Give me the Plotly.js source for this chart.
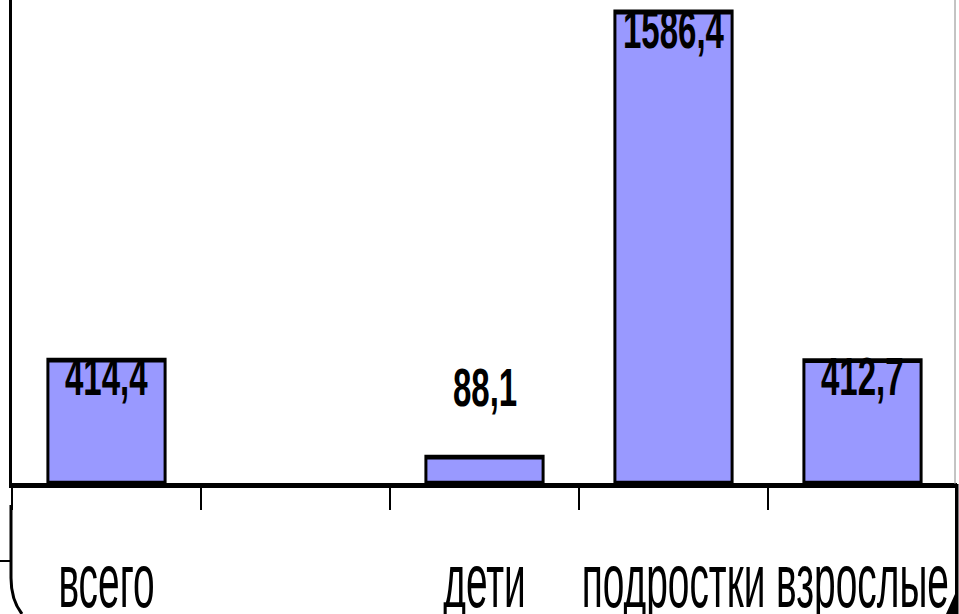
<!DOCTYPE html>
<html>
<head>
<meta charset="utf-8">
<script src="https://cdn.plot.ly/plotly-3.0.1.min.js"></script>
<style>
  html, body { margin: 0; padding: 0; background: #fff; overflow: hidden; width: 959px; height: 614px; }
  #wrap { position: absolute; left: 0; top: 0; width: 959px; height: 384px; transform: scaleY(1.6); transform-origin: 0 0; }
  #chart { width: 959px; height: 384px; }
  #deco { position: absolute; left: 0; top: 0; width: 959px; height: 614px; pointer-events: none; }
</style>
</head>
<body>
<div id="wrap"><div id="chart"></div></div>
<svg id="deco" width="959" height="614" viewBox="0 0 959 614">
  <line x1="955" y1="0" x2="955" y2="484" stroke="#888" stroke-width="1"/>
  <path d="M 11 505 L 11 578 Q 11 600 22 614" stroke="#000" stroke-width="3" fill="none"/>
  <line x1="0" y1="561" x2="10" y2="561" stroke="#000" stroke-width="2"/>
  <polygon points="955,484 958.5,484 958.5,614 946,614 955,594" fill="#000"/>
</svg>
<script>
const categories = ['всего', ' ', 'дети', 'подростки', 'взрослые'];
const values = [414.4, null, 88.1, 1586.4, 412.7];

function fmt(v) { return v.toFixed(1).replace('.', ','); }

const labelFont = { family: 'Liberation Sans, Arial, sans-serif', size: 33, color: '#000', weight: 'bold' };

const annotations = [];
categories.forEach((c, i) => {
  const v = values[i];
  if (v === null) return;
  const inside = v > 200;
  annotations.push({
    x: c, y: v, xref: 'x', yref: 'y',
    text: '<b>' + fmt(v) + '</b>',
    showarrow: false,
    xanchor: 'center',
    yanchor: inside ? 'top' : 'bottom',
    yshift: inside ? 10 : 23,
    font: labelFont
  });
});

const trace = {
  type: 'bar',
  x: categories,
  y: values,
  width: 0.62,
  marker: { color: '#9999FF', line: { color: '#000', width: 3 } },
  hoverinfo: 'skip'
};

const layout = {
  width: 959, height: 384,
  margin: { l: 12, r: 2, t: 0, b: 82, pad: 0 },
  paper_bgcolor: '#fff', plot_bgcolor: '#fff',
  showlegend: false,
  separators: ', ',
  xaxis: {
    type: 'category',
    categoryorder: 'array', categoryarray: categories,
    showline: true, linecolor: '#000', linewidth: 3,
    ticks: 'outside', tickson: 'boundaries', ticklen: 14, tickwidth: 2, tickcolor: '#000',
    tickangle: 0,
    ticklabelstandoff: 17,
    tickfont: { family: 'Liberation Sans, Arial, sans-serif', size: 48, color: '#000' },
    showgrid: false, zeroline: false, fixedrange: true
  },
  yaxis: {
    range: [0, 1626.8],
    showline: true, linecolor: '#000', linewidth: 3,
    showticklabels: false, ticks: '', showgrid: false, zeroline: false, fixedrange: true
  },
  annotations: annotations
};

// narrow the category labels horizontally (the reference uses a condensed face)
function squeeze(selector, sx) {
  document.querySelectorAll(selector).forEach(t => {
    const b = t.getBBox();
    const cx = b.x + b.width / 2;
    const prev = t.getAttribute('transform') || '';
    t.setAttribute('transform', prev + ' translate(' + cx + ',0) scale(' + sx + ',1) translate(' + (-cx) + ',0)');
  });
}

Plotly.newPlot('chart', [trace], layout, { displayModeBar: false, staticPlot: true })
  .then(() => squeeze('#chart .xtick text', 0.81));
</script>
</body>
</html>
